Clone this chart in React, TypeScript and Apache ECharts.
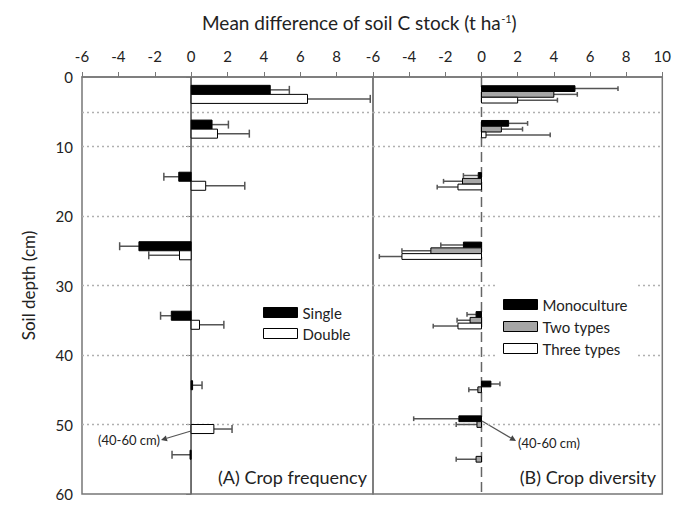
import React, { useEffect, useRef } from "react";
import * as echarts from "echarts";

// Soil depth layer centres (cm)
const depthLayers = [2.5, 7.5, 15, 25, 35, 45, 50, 55];

// Panel A: crop frequency (mean difference, t/ha; error = bar length)
const singleMean = [4.35, 1.15, -0.68, -2.87, -1.09, 0.08, null, -0.06];
const singleErr = [1.05, 0.9, 0.82, 1.06, 0.59, 0.52, null, 0.99];
const doubleMean = [6.4, 1.45, 0.8, -0.64, 0.46, null, 1.25, null];
const doubleErr = [3.45, 1.75, 2.15, 1.69, 1.34, null, 1.0, null];

// Panel B: crop diversity
const monoMean = [5.17, 1.5, -0.18, -1.0, -0.3, 0.52, -1.25, null];
const monoErr = [2.38, 1.05, 0.82, 1.25, 0.5, 0.5, 2.5, null];
const twoMean = [4.0, 1.1, -1.05, -2.8, -0.63, -0.2, -0.25, -0.3];
const twoErr = [1.3, 1.17, 1.05, 1.6, 0.72, 0.5, 1.15, 1.1];
const threeMean = [2.0, 0.25, -1.3, -4.4, -1.3, null, null, null];
const threeErr = [2.2, 3.55, 1.15, 1.25, 1.37, null, null, null];

// Axes
const xMin = -6;
const xMax = 10;
const xStep = 2;
const yMin = 0;
const yMax = 60;
const yStep = 10;
const gridDepths = [5, 10, 20, 30, 40, 50];

const FONT = "Lato, 'Noto Sans', sans-serif";
const TXT = "#222";

function barSeries(
  name: string,
  gi: number,
  means: (number | null)[],
  errs: (number | null)[],
  slot: number,
  nSlots: number,
  thick: number,
  fill: string
) {
  const data: number[][] = [];
  depthLayers.forEach((d, i) => {
    const m = means[i];
    if (m !== null && m !== undefined) data.push([d, m, errs[i] as number]);
  });
  return {
    type: "custom",
    name,
    xAxisIndex: gi,
    yAxisIndex: gi,
    itemStyle: { color: fill, borderColor: "#000", borderWidth: 1 },
    encode: { x: 1, y: 0 },
    data,
    z: 3,
    renderItem: (_p: any, api: any) => {
      const d = api.value(0);
      const v = api.value(1);
      const e = api.value(2);
      const top = d + (slot - nSlots / 2) * thick;
      const bot = top + thick;
      const mid = (top + bot) / 2;
      const s = v < 0 ? -1 : 1;
      const end = v + s * e;
      const a = api.coord([0, top]);
      const b = api.coord([v, bot]);
      const m1 = api.coord([v, mid]);
      const m2 = api.coord([end, mid]);
      const c1 = api.coord([end, top]);
      const c2 = api.coord([end, bot]);
      return {
        type: "group",
        children: [
          {
            type: "line",
            shape: { x1: m1[0], y1: m1[1], x2: m2[0], y2: m2[1] },
            style: { stroke: "#555", lineWidth: 1.5 },
          },
          {
            type: "line",
            shape: { x1: c1[0], y1: c1[1] + 0.5, x2: c2[0], y2: c2[1] - 0.5 },
            style: { stroke: "#555", lineWidth: 1.5 },
          },
          {
            type: "rect",
            shape: {
              x: Math.min(a[0], b[0]),
              y: a[1],
              width: Math.abs(b[0] - a[0]),
              height: b[1] - a[1],
            },
            style: { fill, stroke: "#000", lineWidth: 1 },
          },
        ],
      };
    },
  };
}

function zeroSeries(gi: number, dashed: boolean) {
  return {
    type: "line",
    xAxisIndex: gi,
    yAxisIndex: gi,
    data: [
      [0, yMin],
      [0, yMax],
    ],
    symbol: "none",
    silent: true,
    z: 2,
    lineStyle: {
      color: "#666",
      width: 1.5,
      type: dashed ? [10, 5] : "solid",
    },
    markLine: {
      silent: true,
      symbol: ["none", "none"],
      label: { show: false },
      lineStyle: { type: [2, 3], color: "#b0b0b0", width: 1.3 },
      data: gridDepths.map((g) => ({ yAxis: g })),
      z: 1,
    },
  };
}

function arrow(x1: number, y1: number, tx: number, ty: number) {
  const dx = tx - x1;
  const dy = ty - y1;
  const L = Math.hypot(dx, dy);
  const ux = dx / L;
  const uy = dy / L;
  const bx = tx - 6 * ux;
  const by = ty - 6 * uy;
  const px = -uy * 3;
  const py = ux * 3;
  return [
    {
      type: "line",
      shape: { x1, y1, x2: bx, y2: by },
      style: { stroke: "#555", lineWidth: 1.2 },
    },
    {
      type: "polygon",
      shape: {
        points: [
          [tx, ty],
          [bx + px, by + py],
          [bx - px, by - py],
        ],
      },
      style: { fill: "#444" },
    },
  ];
}

function xAxis(gi: number, hideLast: boolean) {
  return {
    type: "value",
    gridIndex: gi,
    position: "top",
    min: xMin,
    max: xMax,
    interval: xStep,
    splitLine: { show: false },
    axisLine: { show: true, onZero: false, lineStyle: { color: "#777", width: 1.5 } },
    axisTick: { show: true, inside: false, length: 5, lineStyle: { color: "#777" } },
    axisLabel: {
      margin: 14,
      fontSize: 15,
      color: TXT,
      fontFamily: FONT,
      showMaxLabel: !hideLast,
      formatter: (v: number) => (hideLast && v === xMax ? "" : String(v)),
    },
  };
}

export default function App() {
  const ref = useRef<HTMLDivElement>(null);
  useEffect(() => {
    if (!ref.current) return;
    const chart = echarts.init(ref.current, null, { renderer: "svg" });
    const option: any = {
      animation: false,
      backgroundColor: "#fff",
      textStyle: { fontFamily: FONT },
      title: {
        text: "{a|Mean difference of soil C stock (t ha}{s|-1}{a|)}",
        left: 197,
        top: 8,
        textStyle: {
          fontWeight: "normal",
          rich: {
            a: { fontSize: 19, color: TXT, fontFamily: FONT, fontWeight: "normal" },
            s: { fontSize: 11, color: TXT, fontFamily: FONT, fontWeight: "normal", verticalAlign: "top", padding: [0, 0, 8, 0] },
          },
        },
      },
      grid: [
        { left: 82, top: 77, width: 291, height: 417, show: true, borderColor: "#777", borderWidth: 1.5, backgroundColor: "transparent" },
        { left: 373, top: 77, width: 290, height: 417, show: true, borderColor: "#777", borderWidth: 1.5, backgroundColor: "transparent" },
      ],
      xAxis: [xAxis(0, true), xAxis(1, false)],
      yAxis: [
        {
          type: "value",
          gridIndex: 0,
          inverse: true,
          min: yMin,
          max: yMax,
          interval: yStep,
          name: "Soil depth (cm)",
          nameLocation: "middle",
          nameGap: 45,
          nameTextStyle: { fontSize: 17, color: TXT, fontFamily: FONT },
          splitLine: { show: false },
          axisLine: { show: true, lineStyle: { color: "#777", width: 1.5 } },
          axisTick: { show: true, length: 5, lineStyle: { color: "#777" } },
          axisLabel: { fontSize: 15, color: TXT, fontFamily: FONT, margin: 9 },
        },
        {
          type: "value",
          gridIndex: 1,
          inverse: true,
          min: yMin,
          max: yMax,
          interval: yStep,
          show: false,
          splitLine: { show: false },
        },
      ],
      legend: [
        {
          data: [
            { name: "Single", itemStyle: { color: "#000", borderColor: "#000", borderWidth: 1 } },
            { name: "Double", itemStyle: { color: "#fff", borderColor: "#000", borderWidth: 1 } },
          ],
          orient: "vertical",
          left: 263,
          top: 305,
          icon: "rect",
          itemWidth: 34,
          itemHeight: 10,
          itemGap: 6,
          padding: 0,
          selectedMode: false,
          textStyle: { fontSize: 15, color: TXT, fontFamily: FONT, lineHeight: 14 },
        },
        {
          data: [
            { name: "Monoculture", itemStyle: { color: "#000", borderColor: "#000", borderWidth: 1 } },
            { name: "Two types", itemStyle: { color: "#a6a6a6", borderColor: "#000", borderWidth: 1 } },
            { name: "Three types", itemStyle: { color: "#fff", borderColor: "#000", borderWidth: 1 } },
          ],
          orient: "vertical",
          left: 495,
          top: 283,
          icon: "rect",
          itemWidth: 34,
          itemHeight: 10,
          itemGap: 7,
          padding: [14, 10, 8, 8],
          backgroundColor: "#fff",
          selectedMode: false,
          textStyle: { fontSize: 15, color: TXT, fontFamily: FONT, lineHeight: 14 },
        },
      ],
      graphic: [
        {
          type: "text",
          x: 367,
          y: 477,
          style: { text: "(A) Crop frequency", fontSize: 18, fill: TXT, fontFamily: FONT, textAlign: "right", textVerticalAlign: "middle" },
        },
        {
          type: "text",
          x: 656,
          y: 477,
          style: { text: "(B) Crop diversity", fontSize: 18, fill: TXT, fontFamily: FONT, textAlign: "right", textVerticalAlign: "middle" },
        },
        {
          type: "text",
          x: 98,
          y: 440,
          style: { text: "(40-60 cm)", fontSize: 13, fill: TXT, fontFamily: FONT, textAlign: "left", textVerticalAlign: "middle" },
        },
        {
          type: "text",
          x: 518,
          y: 443,
          style: { text: "(40-60 cm)", fontSize: 13, fill: TXT, fontFamily: FONT, textAlign: "left", textVerticalAlign: "middle" },
        },
        ...arrow(191, 431, 161, 440),
        ...arrow(482, 421, 516, 441),
      ],
      series: [
        zeroSeries(0, false),
        zeroSeries(1, true),
        barSeries("Single", 0, singleMean, singleErr, 0, 2, 1.3, "#000"),
        barSeries("Double", 0, doubleMean, doubleErr, 1, 2, 1.3, "#fff"),
        barSeries("Monoculture", 1, monoMean, monoErr, 0, 3, 0.83, "#000"),
        barSeries("Two types", 1, twoMean, twoErr, 1, 3, 0.83, "#a6a6a6"),
        barSeries("Three types", 1, threeMean, threeErr, 2, 3, 0.83, "#fff"),
      ],
    };
    chart.setOption(option);
    return () => chart.dispose();
  }, []);
  return <div ref={ref} style={{ width: 674, height: 505, position: "absolute", left: 0, top: 0 }} />;
}
